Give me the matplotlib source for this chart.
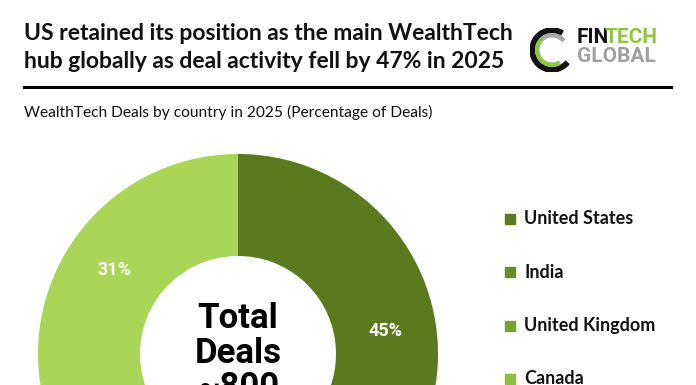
#!/usr/bin/env python3
"""WealthTech deals by country in 2025 - donut chart."""

import matplotlib.pyplot as plt
from matplotlib.patches import Rectangle, Wedge
from matplotlib.lines import Line2D

# Data
countries = ["United States", "India", "United Kingdom", "Canada", "Others"]
shares = [45, 10, 8, 6, 31]
colors = ["#5b7a1e", "#678b26", "#79a02f", "#8fbf3c", "#a9d656"]
total_deals = "~800"

title_lines = [
    "US retained its position as the main WealthTech",
    "hub globally as deal activity fell by 47% in 2025",
]
subtitle = "WealthTech Deals by country in 2025 (Percentage of Deals)"

W, H = 696, 385


def fx(px):
    return px / W


def fy(py):
    # py measured from the top of the image
    return 1 - py / H


fig = plt.figure(figsize=(W / 100, H / 100), dpi=100)
fig.patch.set_facecolor("white")

# Header
for i, line in enumerate(title_lines):
    fig.text(fx(24), fy(40 + i * 28), line, fontsize=16.5, fontweight="bold",
             family="Lato", va="baseline", ha="left", color="#111111")
fig.add_artist(Line2D([fx(24), fx(671)], [fy(87), fy(87)], color="black",
                      linewidth=2.2, transform=fig.transFigure))
fig.text(fx(24), fy(117), subtitle, fontsize=11.2, family="Lato",
         va="baseline", ha="left", color="#111111")

# Logo
lax = fig.add_axes([fx(530), fy(72), fx(44), 44 / H])
lax.set_xlim(-1, 1)
lax.set_ylim(-1, 1)
lax.set_aspect("equal")
lax.axis("off")
lax.add_patch(Wedge((0, 0), 1.0, 60, 320, width=0.2, color="#111111"))
lax.add_patch(Wedge((0, 0), 0.74, 130, 300, width=0.14, color="#8dc63f"))
lax.add_patch(Wedge((0, 0), 0.74, 40, 130, width=0.14, color="#a8a8a8"))

logo_font = dict(fontsize=15, fontweight="bold", family="Roboto",
                 va="baseline", ha="left")
fin = fig.text(fx(577), fy(43), "FIN", color="#111111", **logo_font)
renderer = fig.canvas.get_renderer()
fin_right = fin.get_window_extent(renderer).x1
fig.text((fin_right - 5) / W, fy(43), "TECH", color="#8dc63f", **logo_font)
fig.text(fx(577), fy(62), "GLOBAL", color="#a0a0a0", **logo_font)

# Donut: centre (238, 354) px, outer radius 200 px, inner 98 px
cx, cy, R = 238, 354, 200
ax = fig.add_axes([fx(cx - R), fy(cy + R), fx(2 * R), 2 * R / H])
wedges, _, autotexts = ax.pie(
    shares,
    colors=colors,
    startangle=90,
    counterclock=False,
    radius=1,
    wedgeprops=dict(width=0.51, edgecolor="none"),
    autopct=lambda p: f"{p:.0f}%",
    pctdistance=0.745,
    textprops=dict(color="white", fontsize=13, fontweight="bold",
                   family="Roboto"),
)
ax.set_xlim(-1, 1)
ax.set_ylim(-1, 1)
ax.set_aspect("equal")
ax.axis("off")

center_lines = ["Total", "Deals", total_deals]
for i, line in enumerate(center_lines):
    ax.text(0, 0.175 - i * 0.172, line, ha="center", va="center",
            fontsize=25, fontweight="bold", family="Roboto", color="black")

# Legend
for i, (name, col) in enumerate(zip(countries, colors)):
    y = 219 + i * 53.3
    fig.add_artist(Rectangle((fx(505), fy(y + 5)), fx(10), 10 / H,
                             color=col, transform=fig.transFigure))
    fig.text(fx(524), fy(y), name, fontsize=13, fontweight="bold",
             family="Lato", va="center", ha="left", color="#111111")

fig.savefig("out.png", dpi=100, facecolor="white")
